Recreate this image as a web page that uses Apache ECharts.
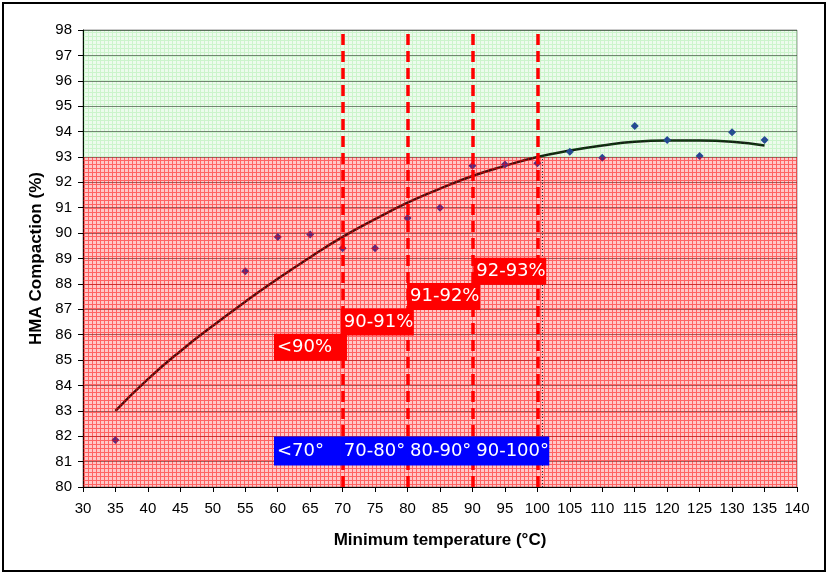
<!DOCTYPE html>
<html>
<head>
<meta charset="utf-8">
<script src="https://cdn.jsdelivr.net/npm/echarts@6/dist/echarts.min.js"></script>
<style>
    html, body { margin: 0; padding: 0; background: #fff; }
    #chart { width: 828px; height: 574px; }
</style>
</head>
<body>
<div id="chart"></div>
<script>
// measured points
const tempX = [35, 55, 60, 65, 70, 75, 80, 85, 90, 95, 100, 105, 110, 115, 120, 125, 130, 135]
const compaction = [81.85, 88.5, 89.85, 89.95, 89.4, 89.4, 90.6, 91.0, 92.65, 92.7, 92.75, 93.2, 92.97, 94.22, 93.67, 93.04, 93.97, 93.67]

// trend curve
const trendX = [35, 40, 45, 50, 55, 60, 65, 70, 75, 80, 85, 90, 95, 100, 105, 110, 115, 120, 125, 130, 135]
const trendY = [83.0, 84.25, 85.35, 86.35, 87.3, 88.2, 89.05, 89.85, 90.55, 91.2, 91.75, 92.25, 92.65, 93.0, 93.25, 93.45, 93.6, 93.65, 93.65, 93.6, 93.45]

// compaction zones: [xFrom, yFrom, xTo, yTo]
const zones = [[30, 80, 140, 93], [30, 93, 140, 98]]

// temperature limits
const tempLimits = [70, 80, 90, 100]

const zoneLabels = ['<90%', '90-91%', '91-92%', '92-93%']
const zoneLabelX = [59.5, 69.8, 80, 90.2]
const zoneLabelY = [84.95, 85.95, 86.95, 87.95]
const rangeLabels = ['<70°', '70-80°', '80-90°', '90-100°']
const rangeLabelY = 80.83

const makePattern = (base, line) => {
    const c = document.createElement('canvas')
    c.width = 4
    c.height = 4
    const ctx = c.getContext('2d')
    ctx.fillStyle = base
    ctx.fillRect(0, 0, 4, 4)
    ctx.fillStyle = line
    ctx.fillRect(0, 0, 4, 1)
    ctx.fillRect(0, 1, 1, 3)
    return c
}

const zoneFills = [
    { image: makePattern('rgba(255,0,0,0.22)', 'rgba(255,0,0,0.5)'), repeat: 'repeat' },
    { image: makePattern('rgba(0,200,0,0.07)', 'rgba(0,200,0,0.14)'), repeat: 'repeat' }
]

const chart = echarts.init(document.getElementById('chart'))

const axisFont = { fontFamily: 'Liberation Sans', fontSize: 15, color: '#000' }
const boxFont = { fontFamily: 'DejaVu Sans', fontSize: 18, color: '#fff' }

const labelData = [
    ...zoneLabels.map((t, i) => ({
        value: [zoneLabelX[i], zoneLabelY[i]],
        name: t,
        label: { backgroundColor: '#ff0000', width: 70 }
    })),
    ...rangeLabels.map((t, i) => ({
        value: [zoneLabelX[i], rangeLabelY],
        name: t,
        label: { backgroundColor: '#0000ff', width: i === 3 ? 73 : 64, height: 29, lineHeight: 29 }
    }))
]

chart.setOption({
    animation: false,
    graphic: [{
        type: 'rect',
        shape: { x: 3, y: 3, width: 822, height: 568 },
        style: { fill: 'none', stroke: '#000', lineWidth: 2 },
        z: 100
    }],
    grid: {
        left: 83,
        right: 31,
        top: 30,
        bottom: 87,
        show: true,
        borderColor: '#999',
        borderWidth: 1,
        backgroundColor: 'transparent'
    },
    xAxis: {
        type: 'value',
        min: 30,
        max: 140,
        interval: 5,
        name: 'Minimum temperature (°C)',
        nameLocation: 'middle',
        nameGap: 45,
        nameTextStyle: { fontFamily: 'Liberation Sans', fontSize: 17, fontWeight: 'bold', color: '#000' },
        axisLine: { show: true, lineStyle: { color: '#000', width: 1 } },
        axisTick: { show: true, length: 5, lineStyle: { color: '#000' } },
        axisLabel: { ...axisFont, margin: 14 },
        splitLine: { show: false }
    },
    yAxis: {
        type: 'value',
        min: 80,
        max: 98,
        interval: 1,
        name: 'HMA Compaction (%)',
        nameLocation: 'middle',
        nameGap: 32,
        nameTextStyle: { fontFamily: 'Liberation Sans', fontSize: 17, fontWeight: 'bold', color: '#000' },
        axisLine: { show: true, lineStyle: { color: '#000', width: 1 } },
        axisTick: { show: true, length: 5, lineStyle: { color: '#000' } },
        axisLabel: { ...axisFont, margin: 11 },
        splitLine: { show: true, lineStyle: { color: 'rgba(0,0,0,0.5)', width: 1.2 } }
    },
    series: [
        {
            name: 'Trend',
            type: 'line',
            data: trendX.map((x, i) => [x, trendY[i]]),
            smooth: true,
            symbol: 'none',
            z: 2,
            lineStyle: { color: '#151515', width: 2.5 }
        },
        {
            name: 'Compaction',
            type: 'scatter',
            data: tempX.map((x, i) => [x, compaction[i]]),
            symbol: 'diamond',
            symbolSize: 8,
            z: 2,
            itemStyle: { color: '#2a3aa6', opacity: 1 }
        },
        {
            name: 'Zones',
            type: 'custom',
            z: 3,
            silent: true,
            encode: { x: [0, 2], y: [1, 3] },
            data: zones,
            renderItem: (params, api) => {
                const p1 = api.coord([api.value(0), api.value(3)])
                const p2 = api.coord([api.value(2), api.value(1)])
                return {
                    type: 'rect',
                    shape: { x: p1[0], y: p1[1], width: p2[0] - p1[0], height: p2[1] - p1[1] },
                    style: { fill: zoneFills[params.dataIndex] }
                }
            }
        },
        {
            name: 'Labels',
            type: 'scatter',
            z: 6,
            silent: true,
            symbolSize: 1,
            itemStyle: { color: 'transparent', opacity: 1 },
            data: labelData,
            label: {
                show: true,
                position: [0, 0],
                align: 'left',
                verticalAlign: 'bottom',
                formatter: p => p.name,
                ...boxFont,
                height: 27,
                lineHeight: 27,
                padding: [0, 0, 0, 3]
            },
            markLine: {
                silent: true,
                symbol: 'none',
                label: { show: false },
                data: [
                    ...tempLimits.map(t => [
                        { coord: [t, 80], lineStyle: { color: '#ff0000', width: 3.5, type: [11, 6] } },
                        { coord: [t, 98] }
                    ]),
                    [
                        { coord: [100.8, 80], lineStyle: { color: '#333', width: 1, type: [1, 2] } },
                        { coord: [100.8, 93] }
                    ]
                ]
            }
        }
    ]
})
</script>
</body>
</html>
